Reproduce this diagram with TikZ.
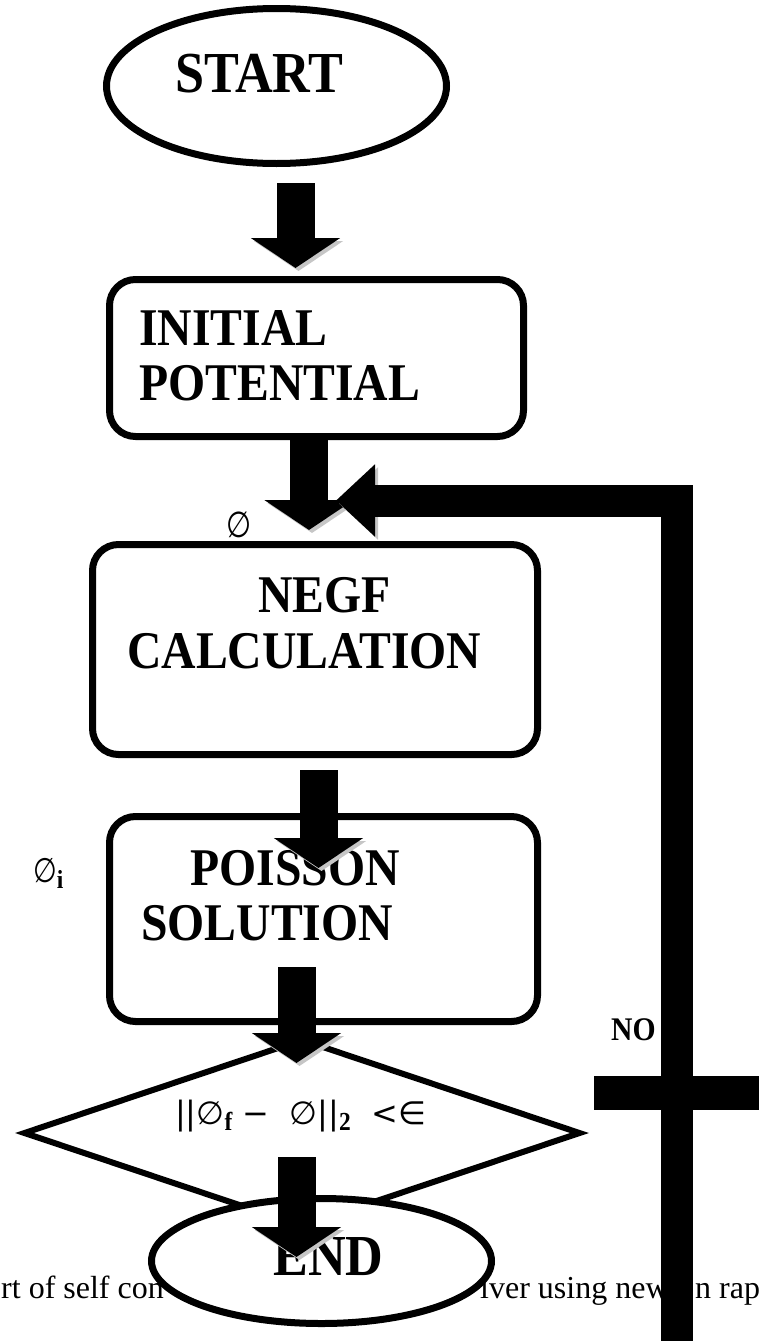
\documentclass[tikz,border=0pt]{standalone}
\usepackage{fontspec}
\setmainfont{Liberation Serif}
\newfontfamily\lblfont{Liberation Serif}[FakeStretch=0.9]
\newfontfamily\formfont{DejaVu Sans}
\newfontfamily\emptysetfont{DejaVu Sans}[FakeStretch=0.8]
\usetikzlibrary{shapes.geometric,arrows.meta}

\newcommand{\emptyphi}{{\emptysetfont ∅}}
\newcommand{\lowbold}[1]{\raisebox{-0.2em}{\lblfont\bfseries\fontsize{26}{26}\selectfont #1}}

\begin{document}
\begin{tikzpicture}[
        x=1pt, y=-1pt,
        term/.style={draw, ellipse, line width=7pt, fill=white, inner sep=0pt, outer sep=0pt},
        proc/.style={draw, rounded corners=26pt, line width=7pt, inner sep=0pt, outer sep=0pt},
        decide/.style={draw, diamond, aspect=3, line width=6pt, inner sep=0pt, outer sep=0pt},
        bigtext/.style={font=\lblfont\bfseries\fontsize{58}{60}\selectfont, inner sep=0pt, anchor=base west},
        boxtext/.style={font=\lblfont\bfseries\fontsize{53}{55}\selectfont, inner sep=0pt, anchor=base west},
        note/.style={font=\fontsize{32}{34}\selectfont, inner sep=0pt, anchor=base west},
        sym/.style={font=\formfont\fontsize{32}{34}\selectfont, inner sep=0pt, anchor=base west},
        shadowed/.style={preaction={draw=gray!45, transform canvas={shift={(3pt,-3pt)}}}},
        forward/.style={line width=38pt, -{Triangle[length=30pt,width=88pt]}, shadowed},
        feedback/.style={line width=32pt, -{Triangle[length=39pt,width=70pt]}, shadowed},
        crossbar/.style={line width=34pt, shadowed}
    ]
        \useasboundingbox (0,0) rectangle (759,1341);

        % caption line behind the chart
        \node[note] (cap1) at (1,1298) {rt of self con};
        \node[note] (cap2) at (480,1298) {lver using new};
        \node[note] (cap3) at (695,1298) {n rap};

        \node[decide, minimum width=555pt, minimum height=186pt] (check) at (302,1133) {};
        \node[sym] (crit) at (175,1124) {||∅\lowbold{f}\ −\ \ ∅||\lowbold{2}\ \ <∈};

        \node[term, minimum width=340pt, minimum height=155pt] (start) at (276.5,86) {};
        \node[bigtext] (starttxt) at (175,92) {START};

        \node[proc, minimum width=414pt, minimum height=157pt] (init) at (316.5,358) {};
        \node[boxtext] (inittxt1) at (139,345) {INITIAL};
        \node[boxtext] (inittxt2) at (139,400) {POTENTIAL};

        \node[sym, font=\fontsize{36}{36}\selectfont] (phi) at (226,537) {\emptyphi};

        \node[proc, minimum width=445pt, minimum height=210pt] (negf) at (315,649.5) {};
        \node[boxtext] (negftxt1) at (258,612) {NEGF};
        \node[boxtext] (negftxt2) at (127,668) {CALCULATION};

        \node[sym, font=\fontsize{34}{34}\selectfont] (phii) at (33,882) {\emptyphi\lowbold{i}};

        \node[proc, minimum width=428pt, minimum height=205pt] (poisson) at (323.5,919) {};
        \node[boxtext] (poissontxt1) at (190,885) {POISSON};
        \node[boxtext] (poissontxt2) at (141,940) {SOLUTION};

        \node[term, minimum width=340pt, minimum height=125pt] (end) at (321.5,1261) {};
        \node[bigtext] (endtxt) at (273,1275) {END};

        \node[boxtext, font=\lblfont\bfseries\fontsize{33}{35}\selectfont] (no) at (611,1040) {NO};

        % block arrows
        \draw[forward] ([xshift=19pt,yshift=-19.5pt]start.south) -- ([xshift=-21pt,yshift=11.5pt]init.north);
        \draw[forward] ([xshift=-7.5pt]init.south) -- ([xshift=-6pt,yshift=14.5pt]negf.north);
        \draw[forward] ([xshift=3.5pt,yshift=-15.5pt]negf.south) -- ([xshift=-5pt,yshift=-51.5pt]poisson.north);
        \draw[forward] ([xshift=-27pt,yshift=54.5pt]poisson.south) -- ([xshift=-5.5pt,yshift=-23pt]check.north);
        \draw[forward] ([xshift=-5.5pt,yshift=-24pt]check.center) -- ([xshift=-25pt,yshift=-58.5pt]end.north);

        % NO branch and loop back
        \coordinate (nowest) at (594,1093);
        \coordinate (noeast) at (770,1093);
        \draw[crossbar] (nowest) -- (noeast);
        \coordinate (loopfoot) at (677,1350);
        \draw[feedback] (loopfoot) |- ([xshift=21pt,yshift=44pt]negf.north);
    \end{tikzpicture}
\end{document}
